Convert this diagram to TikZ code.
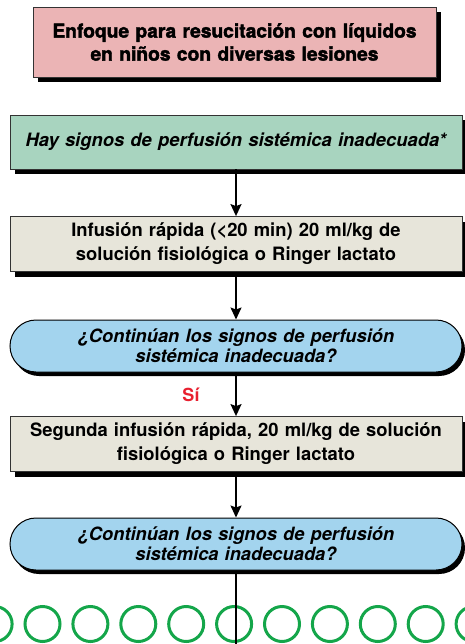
\documentclass[tikz,border=0pt]{standalone}
\usepackage{fontspec}
\setmainfont{TeX Gyre Heros}
\newfontfamily\heavyfont[BoldFont={TeX Gyre Heros Bold},BoldFeatures={FakeBold=2}]{TeX Gyre Heros}
\usetikzlibrary{shapes.misc,shadows,arrows.meta}
\definecolor{pinkbox}{HTML}{EBB4B5}
\definecolor{greenbox}{HTML}{A8D4BF}
\definecolor{graybox}{HTML}{E7E5DA}
\definecolor{bluebox}{HTML}{A3D4EE}
\definecolor{redtxt}{HTML}{E8202F}
\definecolor{ringgreen}{HTML}{14A64A}
\tikzset{
  boxbase/.style={draw=black!80, line width=0.8pt, align=center, inner sep=0pt,
    text width=445pt, minimum width=452pt,
    drop shadow={shadow xshift=5pt, shadow yshift=-5pt, fill=black, opacity=1}},
  titlebox/.style={boxbase, fill=pinkbox, minimum width=403pt, minimum height=70pt, text width=398pt,
    font=\heavyfont\bfseries\fontsize{19.2}{23}\selectfont},
  greenstep/.style={boxbase, fill=greenbox, minimum height=54pt,
    font=\bfseries\itshape\fontsize{18.4}{25}\selectfont},
  graystep/.style={boxbase, fill=graybox, minimum height=55pt,
    font=\bfseries\fontsize{18.4}{24}\selectfont},
  ovalstep/.style={rounded rectangle, draw=black, line width=1pt, fill=bluebox, align=center,
    inner sep=0pt, minimum width=452pt, minimum height=52pt, text width=420pt,
    drop shadow={shadow xshift=3pt, shadow yshift=-4pt, fill=black, opacity=1},
    font=\bfseries\itshape\fontsize{18.3}{20}\selectfont},
  flow/.style={line width=1.6pt, -{Stealth[length=12pt,width=11pt,inset=2pt]}},
  ring/.style={draw=ringgreen, line width=3pt}
}
\begin{document}
\begin{tikzpicture}[x=1pt,y=-1pt]
\useasboundingbox (0,0) rectangle (464,644);
\foreach \k in {-1,...,9} {
  \draw[ring] (42.5+47.9*\k,624) circle[radius=17.5];
}
\node[titlebox] (title) at (234.5,42) {Enfoque para resucitación con líquidos\\en niños con diversas lesiones};
\node[greenstep] (signs) at (236,142) {Hay signos de perfusión sistémica inadecuada*};
\node[graystep] (inf1) at (236,244) {Infusión rápida (<20 min) 20 ml/kg de\\solución fisiológica o Ringer lactato};
\node[ovalstep] (q1) at (236,346) {¿Continúan los signos de perfusión\\sistémica inadecuada?};
\node[graystep] (inf2) at (236,444) {Segunda infusión rápida, 20 ml/kg de solución\\fisiológica o Ringer lactato};
\node[ovalstep] (q2) at (236,544) {¿Continúan los signos de perfusión\\sistémica inadecuada?};
\coordinate (bottom) at (236,644);
\node[font=\bfseries\fontsize{18}{20}\selectfont, text=redtxt] (si) at (191,395) {Sí};
\draw[flow] (signs) -- (inf1);
\draw[flow] (inf1) -- (q1);
\draw[flow] (q1) -- (inf2);
\draw[flow] (inf2) -- (q2);
\draw[line width=1.6pt] (q2) -- (bottom);
\end{tikzpicture}
\end{document}
